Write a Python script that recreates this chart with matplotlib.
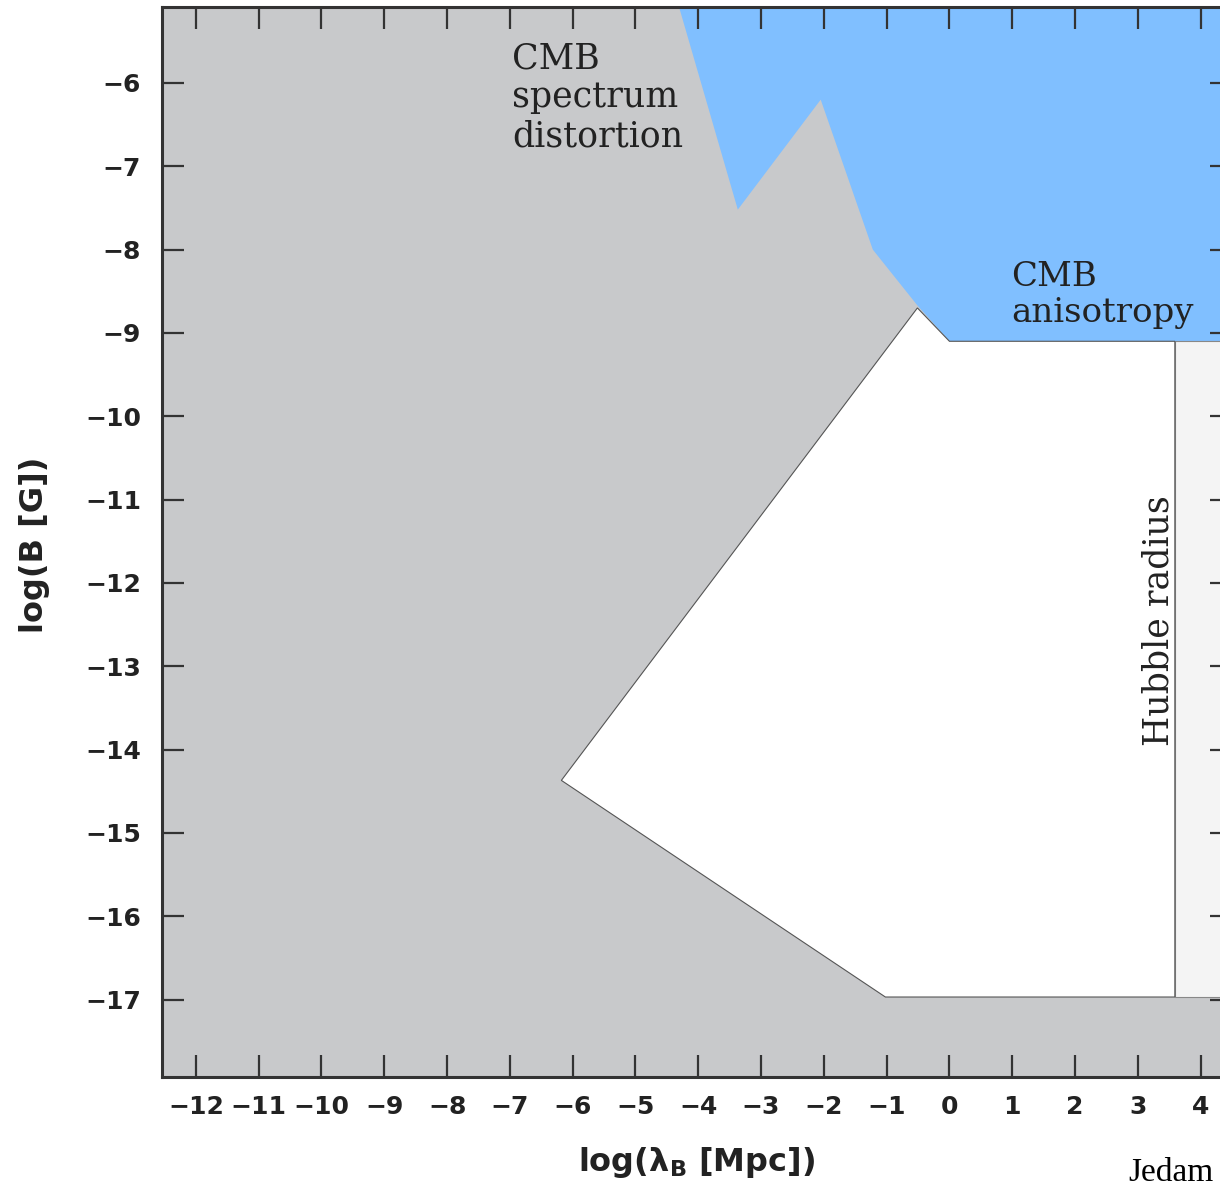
import numpy as np
import matplotlib
matplotlib.use("Agg")
import matplotlib.pyplot as plt
from matplotlib.patches import Polygon

# allowed (white) region
white_x = [-0.51, 0.0, 3.59, 3.59, -1.02, -6.18]
white_y = [-8.70, -9.10, -9.10, -16.97, -16.97, -14.37]

# CMB anisotropy / spectrum distortion exclusion (blue), top goes off the axes
blue_x = [-4.34, -3.37, -2.05, -1.22, -0.51, 0.0, 4.5, 4.5]
blue_y = [-5.0, -7.52, -6.2, -8.0, -8.67, -9.10, -9.10, -5.0]

# beyond Hubble radius
hubble_x = [3.59, 4.5, 4.5, 3.59]
hubble_y = [-9.10, -9.10, -16.97, -16.97]

xticks = list(range(-12, 5))
yticks = list(range(-17, -5))

W, H = 1220, 1189
fig = plt.figure(figsize=(W / 100, H / 100), dpi=100)
ax = fig.add_axes([162 / W, 1 - 1077 / H, (1232 - 162) / W, (1077 - 7) / H])
ax.set_xlim(-12.54, 4.5)
ax.set_ylim(-17.93, -5.088)
ax.set_facecolor("#c8c9cb")

ax.add_patch(Polygon(list(zip(blue_x, blue_y)), closed=True, fc="#80bfff", ec="none"))
ax.add_patch(Polygon(list(zip(hubble_x, hubble_y)), closed=True, fc="#f4f4f4",
                     ec="#888888", lw=0.8))
ax.add_patch(Polygon(list(zip(white_x, white_y)), closed=True, fc="white",
                     ec="#555555", lw=0.8))

serif = ["DejaVu Serif"]
ax.text(-6.97, -5.5, "CMB\nspectrum\ndistortion", family=serif, fontsize=25,
        va="top", ha="left", linespacing=1.18, color="#222222")
ax.text(0.99, -8.14, "CMB\nanisotropy", family=serif, fontsize=24.5,
        va="top", ha="left", linespacing=1.15, color="#222222")
ax.text(3.33, -12.45, "Hubble radius", family=serif, fontsize=25, rotation=90,
        va="center", ha="center", color="#222222")

ax.set_xticks(xticks)
ax.set_yticks(yticks)
ax.tick_params(axis="both", which="major", direction="in", length=16, width=1.6,
               color="#333333", top=True, right=True, labelsize=18)
ax.tick_params(axis="x", pad=13)
ax.tick_params(axis="y", pad=15)
for lab in ax.get_xticklabels() + ax.get_yticklabels():
    lab.set_fontweight("bold")
    lab.set_color("#222222")
for sp in ax.spines.values():
    sp.set_linewidth(2.2)
    sp.set_color("#333333")

ax.set_xlabel(r"log($\mathbf{\lambda_{B}}$ [Mpc])", fontsize=23, fontweight="bold",
              color="#222222")
ax.set_ylabel("log(B [G])", fontsize=23, fontweight="bold", color="#222222")
ax.xaxis.set_label_coords((697 - 162) / (1232 - 162), -(1163 - 1077) / (1077 - 7))
ax.xaxis.label.set_va("center")
ax.yaxis.set_label_coords(-(162 - 35) / (1232 - 162), (1077 - 545) / (1077 - 7))
ax.yaxis.label.set_va("center")

fig.text(1214 / W, 8 / H, "Jedam", family=["Liberation Serif"], fontsize=24,
         va="baseline", ha="right", color="black")

fig.savefig("out.png", dpi=100)
